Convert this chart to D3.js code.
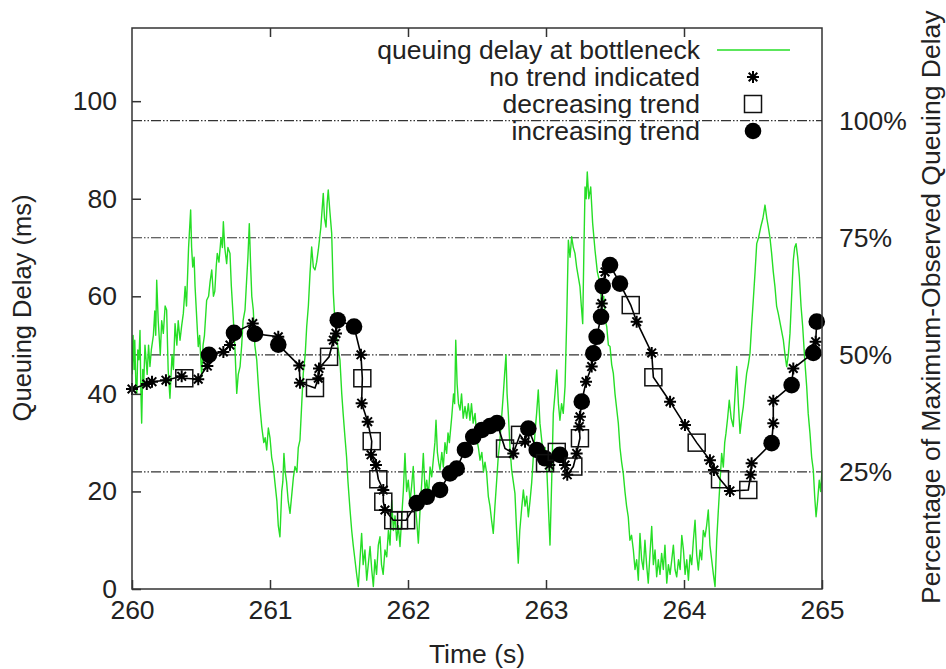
<!DOCTYPE html>
<html>
<head>
<meta charset="utf-8">
<script src="https://cdn.jsdelivr.net/npm/d3@7"></script>
<style>
  body { margin: 0; background: #fff; }
  svg { display: block; }
  text { font-family: "Liberation Sans", Arial, sans-serif; fill: #222; }
</style>
</head>
<body>
<svg id="chart"></svg>
<script>
// queuing delay at bottleneck, [time s, delay ms]
const queueSamples = [
  [260.00, 44], [260.008, 52], [260.015, 45], [260.02, 51], [260.028, 42], [260.035, 40], [260.042, 49], [260.05, 47],
  [260.058, 53], [260.064, 41], [260.07, 34], [260.078, 45], [260.085, 42], [260.094, 50], [260.11, 44], [260.12, 50],
  [260.13, 45.6], [260.14, 49], [260.155, 52], [260.165, 57], [260.172, 52], [260.179, 63.3], [260.19, 55], [260.205, 48],
  [260.215, 55], [260.227, 52.4], [260.24, 58], [260.251, 57.2], [260.262, 45], [260.275, 39.1], [260.29, 48], [260.3, 45],
  [260.312, 54.4], [260.325, 50], [260.335, 55], [260.348, 51], [260.36, 54], [260.372, 56.5], [260.385, 62], [260.395, 58],
  [260.41, 70], [260.425, 77.7], [260.432, 70], [260.44, 66], [260.45, 68], [260.457, 62], [260.47, 55], [260.48, 49.7],
  [260.49, 52], [260.505, 43.5], [260.515, 50], [260.525, 52], [260.541, 59.2], [260.555, 60], [260.566, 63], [260.578, 65.4],
  [260.59, 60], [260.6, 61], [260.61, 66], [260.618, 68.8], [260.63, 67], [260.645, 72], [260.655, 70], [260.662, 75.3],
  [260.672, 70], [260.686, 66.7], [260.695, 70], [260.71, 68.8], [260.72, 62], [260.735, 55], [260.745, 50], [260.759, 40.1],
  [260.77, 44], [260.783, 45.6], [260.795, 50], [260.805, 55], [260.819, 57.2], [260.83, 63], [260.84, 68], [260.85, 74.9],
  [260.86, 66], [260.868, 60], [260.879, 57.2], [260.89, 50], [260.904, 46.9], [260.915, 42], [260.925, 38], [260.94, 33.3],
  [260.955, 30], [260.965, 31], [260.976, 28.5], [260.988, 33], [261.0, 31], [261.012, 27], [261.024, 25.1], [261.035, 22],
  [261.05, 18], [261.06, 13], [261.072, 10.7], [261.085, 20], [261.093, 22], [261.101, 27.8], [261.11, 24], [261.12, 22],
  [261.132, 18], [261.145, 15.5], [261.16, 20], [261.17, 23], [261.181, 25.1], [261.195, 24], [261.205, 29], [261.217, 30.5],
  [261.23, 38], [261.241, 44.2], [261.255, 48], [261.266, 53.8], [261.278, 58], [261.29, 64.7], [261.302, 70.1], [261.314, 66],
  [261.326, 65.4], [261.338, 67], [261.35, 69.5], [261.368, 74], [261.386, 81.1], [261.395, 76], [261.406, 74.2], [261.414, 79],
  [261.422, 81.8], [261.435, 77], [261.447, 72.9], [261.459, 60.6], [261.47, 55], [261.483, 51.7], [261.495, 49], [261.507, 46.9],
  [261.52, 40], [261.53, 36], [261.543, 31.2], [261.555, 27], [261.565, 22], [261.58, 16.2], [261.592, 12], [261.603, 9],
  [261.616, 5.9], [261.628, 3], [261.64, 0.5], [261.652, 6], [261.664, 11.4], [261.675, 5], [261.688, 8], [261.701, 1.8],
  [261.712, 5], [261.725, 8.7], [261.737, 4], [261.749, 0.5], [261.76, 6], [261.772, 3], [261.785, 9], [261.797, 10.7],
  [261.808, 5], [261.82, 3], [261.833, 8], [261.846, 6.6], [261.858, 12], [261.87, 9], [261.882, 18.2], [261.894, 12],
  [261.906, 15], [261.918, 10], [261.93, 13], [261.942, 8.7], [261.955, 15], [261.966, 20], [261.978, 27.8], [261.99, 20],
  [262.002, 22.3], [262.015, 18], [262.026, 21], [262.038, 25.1], [262.05, 18], [262.063, 14], [262.075, 9.4], [262.087, 16],
  [262.1, 22], [262.111, 27.8], [262.124, 20], [262.136, 22.3], [262.148, 19], [262.16, 25], [262.172, 23], [262.185, 27],
  [262.195, 30], [262.203, 34.6], [262.213, 28], [262.222, 26], [262.232, 24.4], [262.245, 28], [262.256, 25], [262.268, 30],
  [262.28, 27.8], [262.29, 32], [262.3, 30], [262.317, 35.3], [262.33, 40], [262.338, 38], [262.346, 51], [262.356, 42],
  [262.366, 38], [262.377, 36.7], [262.388, 40], [262.4, 35], [262.413, 37.4], [262.425, 35], [262.437, 38], [262.449, 34.6],
  [262.46, 38], [262.472, 34], [262.486, 36], [262.5, 30.5], [262.51, 29], [262.522, 26.4], [262.535, 28], [262.547, 24],
  [262.558, 26], [262.57, 23.7], [262.582, 19], [262.594, 17], [262.606, 14], [262.618, 11.4], [262.63, 17], [262.642, 22],
  [262.654, 27.1], [262.665, 30], [262.678, 35], [262.691, 40.1], [262.7, 44], [262.71, 48], [262.718, 40], [262.727, 36],
  [262.739, 29], [262.751, 24.4], [262.763, 22], [262.775, 19.6], [262.787, 12], [262.799, 5.3], [262.81, 12], [262.822, 16],
  [262.836, 20.3], [262.848, 17], [262.86, 19], [262.872, 14.8], [262.884, 18], [262.896, 21.7], [262.908, 27], [262.92, 32],
  [262.932, 36], [262.944, 40.8], [262.956, 34], [262.969, 30.5], [262.98, 27], [262.993, 29], [263.005, 25.1], [263.017, 17],
  [263.029, 9], [263.041, 22], [263.053, 36], [263.065, 40], [263.078, 44.9], [263.09, 38], [263.101, 34.6], [263.113, 38],
  [263.125, 36], [263.138, 41.5], [263.15, 55], [263.162, 71.5], [263.174, 68], [263.186, 72.2], [263.198, 70], [263.21, 68.8],
  [263.222, 66], [263.234, 64], [263.246, 62], [263.256, 58], [263.266, 54.4], [263.275, 70], [263.283, 82.4], [263.291, 80],
  [263.299, 85.5], [263.31, 80], [263.324, 82.4], [263.338, 75], [263.355, 69.5], [263.372, 65], [263.391, 62.6], [263.405, 58],
  [263.418, 60], [263.43, 55], [263.44, 53.8], [263.452, 50], [263.464, 49.7], [263.476, 46], [263.488, 44.2], [263.5, 40],
  [263.512, 37], [263.524, 34], [263.536, 29], [263.548, 26], [263.56, 23.7], [263.572, 20], [263.584, 17], [263.596, 14.8],
  [263.608, 10], [263.62, 11], [263.633, 8], [263.645, 4], [263.657, 6], [263.669, 1.8], [263.681, 11.4], [263.693, 6],
  [263.705, 4], [263.717, 10], [263.729, 5], [263.741, 1.2], [263.753, 7], [263.766, 12.8], [263.778, 5], [263.79, 8],
  [263.802, 2.5], [263.814, 6], [263.826, 3], [263.838, 7.3], [263.85, 4], [263.862, 9], [263.875, 1.2], [263.887, 5],
  [263.899, 3], [263.911, 5.9], [263.923, 9], [263.935, 4], [263.947, 2.5], [263.96, 6], [263.972, 4], [263.984, 11],
  [263.996, 8], [264.008, 3], [264.02, 6], [264.032, 1.8], [264.044, 7], [264.056, 5], [264.068, 10], [264.08, 14.1],
  [264.092, 7], [264.104, 3.9], [264.116, 8], [264.128, 6], [264.14, 12], [264.152, 10.7], [264.164, 13], [264.176, 16.2],
  [264.188, 9], [264.201, 5.9], [264.213, 3], [264.225, 0.5], [264.237, 10], [264.249, 16.2], [264.261, 22], [264.273, 27.8],
  [264.285, 25], [264.295, 30], [264.304, 31.9], [264.316, 35], [264.328, 38.7], [264.342, 35], [264.357, 33.3], [264.37, 40],
  [264.382, 45.6], [264.394, 38], [264.406, 31.9], [264.418, 35], [264.43, 37.4], [264.442, 41], [264.454, 44.2], [264.466, 46],
  [264.478, 48.3], [264.49, 54], [264.502, 59.2], [264.515, 65], [264.527, 70.8], [264.54, 72], [264.556, 74.2], [264.572, 76],
  [264.587, 78.7], [264.6, 76], [264.611, 74.2], [264.623, 72], [264.635, 68.8], [264.647, 65], [264.659, 62], [264.671, 58],
  [264.683, 56.5], [264.7, 54], [264.72, 51], [264.732, 48], [264.744, 45.6], [264.756, 48], [264.768, 52.4], [264.78, 60],
  [264.792, 67.4], [264.802, 70], [264.812, 70.8], [264.824, 68], [264.836, 64], [264.848, 58], [264.86, 53.8], [264.875, 47],
  [264.889, 41.5], [264.9, 36], [264.913, 31.9], [264.925, 27], [264.937, 24.4], [264.947, 19], [264.957, 14.8], [264.968, 18],
  [264.98, 22.3], [264.99, 20], [265.0, 24.4]
];

// trend estimates (black line with markers)
const trendTime = [260.0, 260.107, 260.145, 260.246, 260.36, 260.379, 260.48, 260.546, 260.558, 260.662,
  260.71, 260.739, 260.875, 260.891, 261.06, 261.06, 261.212, 261.217, 261.326, 261.35,
  261.355, 261.428, 261.459, 261.478, 261.491, 261.609, 261.659, 261.669, 261.664, 261.708,
  261.737, 261.732, 261.768, 261.785, 261.821, 261.821, 261.833, 261.893, 261.935, 261.986,
  262.063, 262.136, 262.232, 262.304, 262.353, 262.413, 262.473, 262.536, 262.594, 262.645,
  262.703, 262.763, 262.812, 262.848, 262.872, 262.933, 262.993, 262.993, 263.024, 263.078,
  263.101, 263.138, 263.154, 263.198, 263.222, 263.246, 263.241, 263.246, 263.259, 263.29,
  263.331, 263.343, 263.367, 263.399, 263.404, 263.411, 263.428, 263.464, 263.536, 263.614,
  263.657, 263.766, 263.778, 263.899, 264.007, 264.092, 264.188, 264.217, 264.261, 264.333,
  264.466, 264.483, 264.49, 264.635, 264.647, 264.647, 264.78, 264.792, 264.937, 264.954,
  264.962];
const trendDelay = [41.0, 42.0, 42.5, 42.8, 43.6, 43.2, 43.0, 45.7, 48.0, 48.6,
  50.0, 52.5, 54.4, 52.3, 51.7, 50.1, 45.8, 42.3, 41.2, 43.2,
  45.2, 47.6, 51.0, 52.4, 55.1, 53.8, 48.0, 43.2, 38.1, 34.3,
  30.3, 27.5, 25.4, 22.5, 20.3, 17.9, 16.2, 14.1, 14.1, 14.1,
  17.6, 18.9, 20.3, 23.7, 24.7, 28.5, 31.2, 32.6, 33.4, 34.0,
  28.8, 27.8, 31.6, 30.2, 32.9, 28.5, 26.8, 25.8, 25.4, 28.1,
  27.5, 25.4, 23.4, 25.1, 27.8, 30.9, 33.3, 35.3, 38.4, 42.5,
  45.6, 48.3, 51.7, 55.8, 58.5, 62.1, 65.0, 66.4, 62.6, 58.2,
  54.8, 48.4, 43.4, 38.4, 33.6, 30.0, 26.4, 24.4, 22.5, 20.1,
  20.3, 23.4, 25.8, 29.9, 34.0, 38.6, 41.8, 45.2, 48.4, 50.7,
  54.8];
const trendKind = ["none", "none", "none", "none", "none", "dec", "none", "none", "inc", "none",
  "none", "inc", "none", "inc", "none", "inc", "none", "none", "dec", "none",
  "none", "dec", "none", "none", "inc", "inc", "none", "dec", "none", "none",
  "dec", "none", "none", "dec", "none", "dec", "none", "dec", "dec", "dec",
  "inc", "inc", "inc", "inc", "inc", "inc", "inc", "inc", "inc", "inc",
  "dec", "none", "dec", "none", "inc", "inc", "inc", "dec", "none", "dec",
  "inc", "none", "none", "dec", "none", "dec", "none", "none", "inc", "none",
  "none", "inc", "inc", "inc", "none", "inc", "none", "inc", "inc", "dec",
  "none", "none", "dec", "none", "none", "dec", "none", "none", "dec", "none",
  "dec", "none", "none", "inc", "none", "none", "inc", "none", "inc", "none",
  "inc"];

const xTicks = [260, 261, 262, 263, 264, 265];
const yTicks = [0, 20, 40, 60, 80, 100];
const pctLevels = [96, 72, 48, 24];
const pctLabels = ["100%", "75%", "50%", "25%"];
const legendLabels = ["queuing delay at bottleneck", "no trend indicated", "decreasing trend", "increasing trend"];
const legendKinds = ["line", "none", "dec", "inc"];

const width = 946, height = 669;
const plotLeft = 132, plotRight = 822, plotTop = 28, plotBottom = 589;
const green = "#26de26";
const fontSize = "26.5px";

const svg = d3.select("#chart").attr("width", width).attr("height", height);

const x = d3.scaleLinear().domain([260, 265]).range([plotLeft, plotRight]);
const y = d3.scaleLinear().domain([0, 115]).range([plotBottom, plotTop]);

svg.append("clipPath").attr("id", "plot-clip")
  .append("rect")
  .attr("x", plotLeft).attr("y", plotTop)
  .attr("width", plotRight - plotLeft).attr("height", plotBottom - plotTop);

// percentage reference lines
svg.selectAll(".pct-line")
  .data(pctLevels)
  .enter()
  .append("line")
  .attr("class", "pct-line")
  .attr("x1", plotLeft).attr("x2", plotRight)
  .attr("y1", d => y(d)).attr("y2", d => y(d))
  .attr("stroke", "#333")
  .attr("stroke-width", 1.2)
  .attr("stroke-dasharray", "10,2,1.5,2,1.5,2");

svg.selectAll(".pct-label")
  .data(pctLevels)
  .enter()
  .append("text")
  .attr("class", "pct-label")
  .attr("x", 839)
  .attr("y", d => y(d) + 9)
  .style("font-size", fontSize)
  .text((d, i) => pctLabels[i]);

// green trace
const queueLine = d3.line()
  .x(d => x(d[0]))
  .y(d => y(d[1]));

svg.append("path")
  .datum(queueSamples)
  .attr("clip-path", "url(#plot-clip)")
  .attr("fill", "none")
  .attr("stroke", green)
  .attr("stroke-width", 1.4)
  .attr("stroke-linejoin", "round")
  .attr("d", queueLine);

// black trend line
const trendLine = d3.line()
  .x((d, i) => x(trendTime[i]))
  .y(d => y(d));

svg.append("path")
  .datum(trendDelay)
  .attr("fill", "none")
  .attr("stroke", "#000")
  .attr("stroke-width", 1.6)
  .attr("d", trendLine);

const starPath = "M-6,0H6M0,-6V6M-4.3,-4.3L4.3,4.3M-4.3,4.3L4.3,-4.3";

function drawMarker(g, kind) {
  if (kind == "none") {
    g.append("path").attr("d", starPath)
      .attr("stroke", "#000").attr("stroke-width", 2).attr("fill", "none");
  } else if (kind == "dec") {
    g.append("rect").attr("x", -8.5).attr("y", -8.5).attr("width", 17).attr("height", 17)
      .attr("stroke", "#111").attr("stroke-width", 1.5).attr("fill", "none");
  } else if (kind == "inc") {
    g.append("circle").attr("r", 8.3).attr("fill", "#000");
  }
}

svg.selectAll(".trend-point")
  .data(trendDelay)
  .enter()
  .append("g")
  .attr("class", "trend-point")
  .attr("transform", (d, i) => `translate(${x(trendTime[i])},${y(d)})`)
  .each(function (d, i) { drawMarker(d3.select(this), trendKind[i]); });

// frame
svg.append("rect")
  .attr("x", plotLeft).attr("y", plotTop)
  .attr("width", plotRight - plotLeft).attr("height", plotBottom - plotTop)
  .attr("fill", "none")
  .attr("stroke", "#333")
  .attr("stroke-width", 1.5);

// axes
const yAxis = svg.append("g")
  .attr("transform", `translate(${plotLeft},0)`)
  .call(d3.axisLeft(y).tickValues(yTicks).tickSize(-9).tickPadding(15));

const xAxis = svg.append("g")
  .attr("transform", `translate(0,${plotBottom})`)
  .call(d3.axisBottom(x).tickValues(xTicks).tickSize(-9).tickPadding(11).tickFormat(d3.format("d")));

const topAxis = svg.append("g")
  .attr("transform", `translate(0,${plotTop})`)
  .call(d3.axisTop(x).tickValues(xTicks.slice(1, -1)).tickSize(-9).tickFormat(""));

for (let axis of [yAxis, xAxis, topAxis]) {
  axis.select(".domain").remove();
  axis.selectAll(".tick line").attr("stroke", "#333").attr("stroke-width", 1.5);
  axis.selectAll(".tick text")
    .style("font-family", "'Liberation Sans', Arial, sans-serif")
    .style("font-size", fontSize)
    .attr("fill", "#222");
}

// axis titles
svg.append("text")
  .attr("transform", "translate(31,308) rotate(-90)")
  .attr("text-anchor", "middle")
  .style("font-size", "25.5px")
  .text("Queuing Delay (ms)");

svg.append("text")
  .attr("x", 477).attr("y", 663)
  .attr("text-anchor", "middle")
  .style("font-size", fontSize)
  .text("Time (s)");

svg.append("text")
  .attr("transform", "translate(940,604) rotate(-90)")
  .attr("text-anchor", "start")
  .style("font-size", fontSize)
  .text("Percentage of Maximum-Observed Queuing Delay");

// legend
const legend = svg.selectAll(".legend-row")
  .data(legendLabels)
  .enter()
  .append("g")
  .attr("class", "legend-row")
  .attr("transform", (d, i) => `translate(0,${50 + i * 27})`);

legend.append("text")
  .attr("x", 700).attr("y", 9)
  .attr("text-anchor", "end")
  .style("font-size", fontSize)
  .text(d => d);

legend.each(function (d, i) {
  let g = d3.select(this);
  if (legendKinds[i] == "line") {
    g.append("line").attr("x1", 717).attr("x2", 790).attr("y1", 0).attr("y2", 0)
      .attr("stroke", green).attr("stroke-width", 1.5);
  } else {
    drawMarker(g.append("g").attr("transform", "translate(753,0)"), legendKinds[i]);
  }
});
</script>
</body>
</html>
